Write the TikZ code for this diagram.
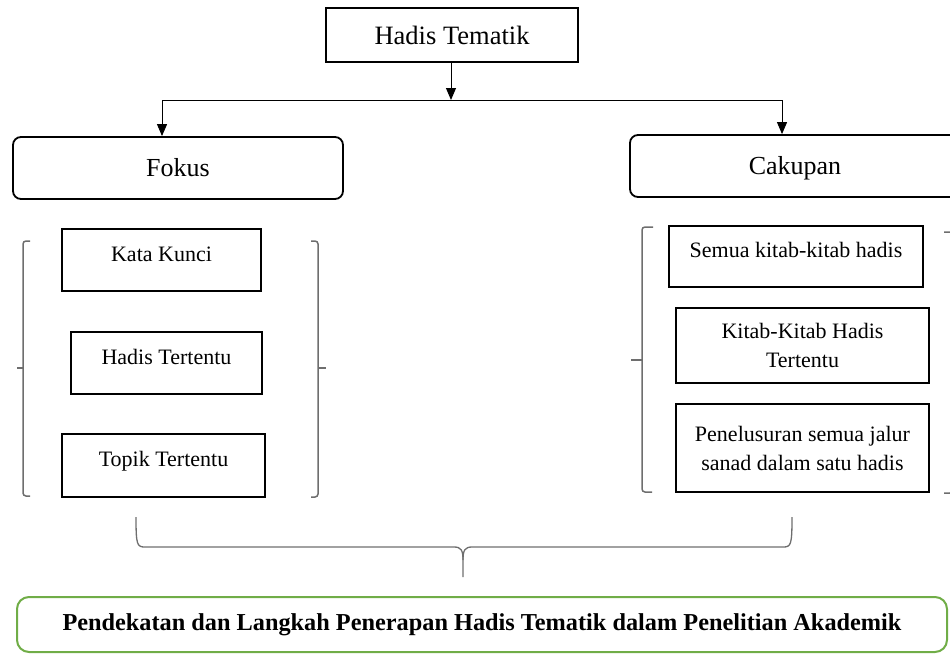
\documentclass[tikz,border=0pt]{standalone}
\usepackage{fontspec}
\setmainfont{Liberation Serif}
\usepackage{xcolor}
\usetikzlibrary{arrows.meta,positioning}
\definecolor{resgreen}{RGB}{112,173,71}
\definecolor{bracketgray}{RGB}{110,110,110}
\tikzset{
  topbox/.style={
    rectangle, draw, line width=1.8pt, inner sep=0pt,
    minimum width=252pt, minimum height=54pt,
    font=\fontsize{26.5}{30}\selectfont
  },
  groupbox/.style={
    rectangle, rounded corners=8pt, draw, line width=1.8pt, inner sep=0pt,
    minimum width=330pt, minimum height=62pt,
    text height=18pt, text depth=2pt,
    font=\fontsize{26}{30}\selectfont
  },
  itembox/.style={
    rectangle, draw, line width=1.8pt, inner sep=0pt,
    text centered, align=center, font=\fontsize{22}{29}\selectfont
  },
  shiftup/.style={text height=16pt, text depth=14pt},
  resultbox/.style={
    rectangle, rounded corners=12pt, draw=resgreen, line width=2pt,
    inner sep=0pt, minimum width=930pt, minimum height=55pt,
    font=\bfseries\fontsize{24.3}{28}\selectfont
  },
  arrow/.style={-{Triangle[width=10pt,length=12pt]}, line width=1pt, black},
  bracket/.style={draw=bracketgray, line width=1.5pt, rounded corners=3pt},
}

\begin{document}
\begin{tikzpicture}[x=1pt, y=-1pt]
  \useasboundingbox (0,0) rectangle (950,654);
  \clip (0,0) rectangle (950,654);

  % Nodes
  \node[topbox] (tematik) at (452,35) {Hadis Tematik};
  \node[groupbox] (fokus) at (178,168) {Fokus};
  \node[groupbox] (cakupan) at (795,166) {Cakupan};

  \node[itembox, shiftup, minimum width=199pt, minimum height=62pt] (kunci)
    at (161.5,260) {Kata Kunci};
  \node[itembox, shiftup, minimum width=191pt, minimum height=62pt] (hadis)
    at (166.5,363) {Hadis Tertentu};
  \node[itembox, shiftup, minimum width=203pt, minimum height=63pt] (topik)
    at (163.5,465.5) {Topik Tertentu};

  \node[itembox, shiftup, minimum width=254pt, minimum height=61pt] (semua)
    at (796,256.5) {Semua kitab-kitab hadis};
  \node[itembox, minimum width=253pt, minimum height=75pt] (kitab)
    at (802.5,345.5) {Kitab-Kitab Hadis\\Tertentu};
  \node[itembox, minimum width=253pt, minimum height=88pt] (telusur)
    at (802.5,448) {Penelusuran semua jalur\\sanad dalam satu hadis};

  \node[resultbox] (hasil) at (482,624.5)
    {Pendekatan dan Langkah Penerapan Hadis Tematik dalam Penelitian Akademik};

  % Arrows
  \coordinate (split) at (451,100);
  \coordinate (lsplit) at (162,100);
  \coordinate (rsplit) at (782,100);
  \draw[arrow] (tematik.south -| split) -- (split);
  \draw[line width=1pt] (lsplit) -- (rsplit);
  \draw[arrow] (lsplit) -- (lsplit |- fokus.north);
  \draw[arrow] (rsplit) -- (rsplit |- cakupan.north);

  % Brackets
  \draw[bracket] (30,241) -- (23,241) -- (23,496) -- (30,496);
  \draw[bracket] (23,368) -- (17,368);
  \draw[bracket] (311,241) -- (318,241) -- (318,497) -- (311,497);
  \draw[bracket] (318,368) -- (326,368);
  \draw[bracket] (653,227) -- (642,227) -- (642,492) -- (652,492);
  \draw[bracket] (642,360) -- (631,360);
  \draw[bracket] (944,232) -- (953,232) -- (953,493) -- (944,493);

  % Brace
  \coordinate (bleft) at (136,517);
  \coordinate (bright) at (792,517);
  \coordinate (btip) at (463,577);
  \draw[bracketgray, line width=1.3pt] (bleft) .. controls (136,545) and (137,547) .. (145,547)
    -- (454,547) .. controls (461,547) and (463,550) .. (463,560) -- (btip);
  \draw[bracketgray, line width=1.3pt] (bright) .. controls (792,545) and (791,547) .. (783,547)
    -- (472,547) .. controls (465,547) and (463,550) .. (463,560);
\end{tikzpicture}
\end{document}
